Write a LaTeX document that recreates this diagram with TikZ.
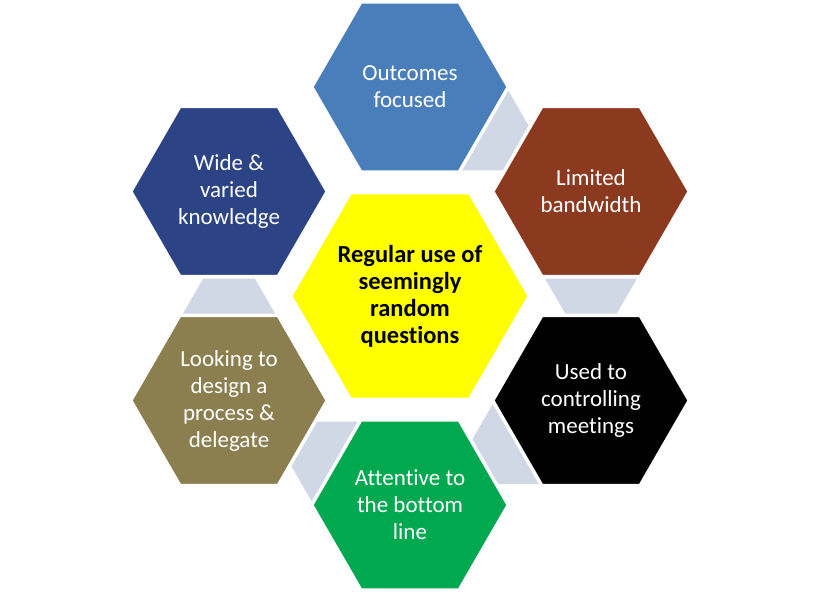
\documentclass[tikz,border=0pt]{standalone}
\usepackage{fontspec}
\setmainfont{Carlito}[Ligatures=NoCommon,RawFeature={-liga;-clig}]
\usetikzlibrary{shapes.geometric,calc}
\definecolor{cblue}{HTML}{4A7EBB}
\definecolor{cnavy}{HTML}{2C4486}
\definecolor{cbrown}{HTML}{8B3A1F}
\definecolor{colive}{HTML}{8B7F4F}
\definecolor{cgreen}{HTML}{00A850}
\definecolor{cyel}{HTML}{FFFF00}
\definecolor{connc}{HTML}{D0D8E6}
\newcommand\hexconnector[2]{%
  \coordinate (#1#2a) at ($(#1.center)!87pt!(#2.center)$);
  \coordinate (#1#2b) at ($(#1.center)!122pt!(#2.center)$);
  \fill[conn] ($(#1#2a)!46pt!90:(#2.center)$) -- ($(#1#2a)!46pt!-90:(#2.center)$)
    -- ($(#1#2b)!25.8pt!-90:(#2.center)$) -- ($(#1#2b)!25.8pt!90:(#2.center)$) -- cycle;}
\begin{document}
\begin{tikzpicture}[x=1pt,y=-1pt,
  hexa/.style={regular polygon, regular polygon sides=6, inner sep=0pt, outer sep=0pt,
    draw=white, line width=1.2pt, minimum size=194pt},
  lbl/.style={align=center, text=white, inner sep=0pt, font=\fontsize{23}{27}\selectfont},
  conn/.style={fill=connc}]
\useasboundingbox[fill=white] (0,0) rectangle (820,592);
% hexagons
\node[hexa, fill=cblue]  (top) at (410,87) {};
\node[hexa, fill=cbrown] (ur)  at (591,191.5) {};
\node[hexa, fill=black]  (lr)  at (591,400.5) {};
\node[hexa, fill=cgreen] (bot) at (410,505) {};
\node[hexa, fill=colive] (ll)  at (229,400.5) {};
\node[hexa, fill=cnavy]  (ul)  at (229,191.5) {};
\node[hexa, fill=cyel, minimum size=236pt] (ctr) at (410,296) {};
% connectors
\hexconnector{top}{ur}
\hexconnector{ur}{lr}
\hexconnector{lr}{bot}
\hexconnector{bot}{ll}
\hexconnector{ll}{ul}
% labels
\node[lbl] (ttop) at (top) {Outcomes\\focused};
\node[lbl] (tur)  at (ur)  {Limited\\bandwidth};
\node[lbl] (tlr)  at (lr)  {Used to\\controlling\\meetings};
\node[lbl] (tbot) at (bot) {Attentive to\\the bottom\\line};
\node[lbl] (tll)  at (ll)  {Looking to\\design a\\process \&\\delegate};
\node[lbl] (tul)  at (ul)  {Wide \&\\varied\\knowledge};
\node[lbl, text=black, font=\fontsize{24.5}{27}\selectfont\bfseries] (tctr) at (ctr)
  {Regular use of\\seemingly\\random\\questions};
\end{tikzpicture}
\end{document}
